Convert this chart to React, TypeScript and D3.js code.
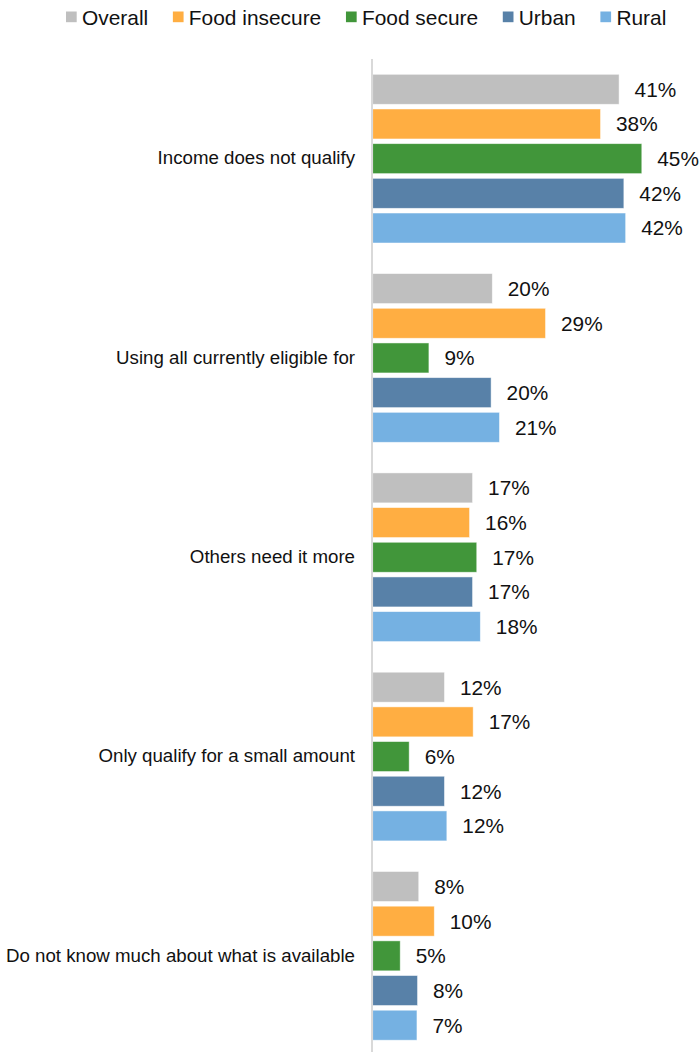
import React, { useEffect, useRef } from "react";
import * as d3 from "d3";

const categories = [
  "Income does not qualify",
  "Using all currently eligible for",
  "Others need it more",
  "Only qualify for a small amount",
  "Do not know much about what is available",
];
const seriesNames = ["Overall", "Food insecure", "Food secure", "Urban", "Rural"];
const seriesColors = ["#BFBFBF", "#FFAE42", "#41963A", "#5881A8", "#75B1E2"];
const overall = [41.2, 20.0, 16.7, 12.0, 7.7];
const foodInsecure = [38.1, 28.9, 16.2, 16.8, 10.3];
const foodSecure = [45.0, 9.4, 17.4, 6.1, 4.6];
const urban = [42.0, 19.8, 16.7, 12.0, 7.5];
const rural = [42.3, 21.2, 18.0, 12.4, 7.4];
const seriesValues = [overall, foodInsecure, foodSecure, urban, rural];

const W = 699;
const H = 1052;
const FONT = "'Liberation Sans', Arial, Helvetica, sans-serif";

export default function App() {
  const ref = useRef<SVGSVGElement | null>(null);

  useEffect(() => {
    const svg = d3.select(ref.current);
    svg.selectAll("*").remove();

    const x0 = 372.7;
    const x = d3.scaleLinear().domain([0, 50]).range([x0, x0 + 299]);
    const groupH = 199.3;
    const yOuter = d3
      .scaleBand<string>()
      .domain(categories)
      .range([59, 59 + groupH * categories.length]);
    const yInner = d3
      .scaleBand<string>()
      .domain(seriesNames)
      .range([12.95, groupH - 12.95]);
    const gap = 4.7;

    categories.forEach((cat, ci) => {
      const g = svg.append("g");
      seriesNames.forEach((s, si) => {
        const v = seriesValues[si][ci];
        const y = (yOuter(cat) as number) + (yInner(s) as number) + gap / 2;
        const h = yInner.bandwidth() - gap;
        g.append("rect")
          .attr("x", x(0))
          .attr("y", y)
          .attr("width", x(v) - x(0))
          .attr("height", h)
          .attr("fill", seriesColors[si])
          .attr("stroke", "#ffffff")
          .attr("stroke-opacity", 0.6)
          .attr("stroke-width", 0.8);
        g.append("text")
          .attr("x", x(v) + 15.5)
          .attr("y", y + h / 2)
          .attr("dy", "0.36em")
          .attr("font-family", FONT)
          .attr("font-size", 20.8)
          .attr("fill", "#111")
          .text(`${Math.round(v)}%`);
      });
      svg
        .append("text")
        .attr("x", 355)
        .attr("y", (yOuter(cat) as number) + yOuter.bandwidth() / 2 - 1)
        .attr("dy", "0.36em")
        .attr("text-anchor", "end")
        .attr("font-family", FONT)
        .attr("font-size", 18.7)
        .attr("fill", "#111")
        .text(cat);
    });

    svg
      .append("line")
      .attr("x1", 372)
      .attr("x2", 372)
      .attr("y1", 59)
      .attr("y2", 59 + groupH * categories.length)
      .attr("stroke", "#D9D9D9")
      .attr("stroke-width", 2);

    const leg = svg.append("g");
    let cx = 66;
    seriesNames.forEach((s, i) => {
      leg
        .append("rect")
        .attr("x", cx)
        .attr("y", 11.5)
        .attr("width", 10.7)
        .attr("height", 10.7)
        .attr("fill", seriesColors[i]);
      const t = leg
        .append("text")
        .attr("x", cx + 16)
        .attr("y", 17)
        .attr("dy", "0.36em")
        .attr("font-family", FONT)
        .attr("font-size", 20.9)
        .attr("fill", "#111")
        .text(s);
      const w = (t.node() as SVGTextElement).getComputedTextLength();
      cx = cx + 16 + w + 24.7;
    });
  }, []);

  return (
    <svg
      ref={ref}
      width={W}
      height={H}
      style={{ position: "absolute", left: 0, top: 0, background: "#fff" }}
    />
  );
}
